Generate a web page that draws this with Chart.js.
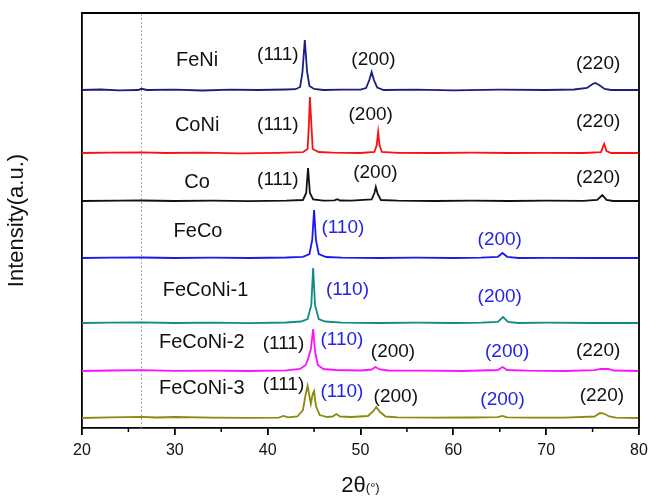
<!DOCTYPE html>
<html>
<head>
<meta charset="utf-8">
<script src="https://cdn.jsdelivr.net/npm/chart.js@4.4.0/dist/chart.umd.min.js"></script>
<style>
  html, body { margin: 0; padding: 0; background: #fff; }
  #wrap { width: 649px; height: 497px; }
</style>
</head>
<body>
<div id="wrap"><canvas id="xrd"></canvas></div>
<script>
// XRD patterns, 2theta (deg) vs intensity (a.u.), stacked with offsets
const samples = ['FeNi', 'CoNi', 'Co', 'FeCo', 'FeCoNi-1', 'FeCoNi-2', 'FeCoNi-3'];
const offsets = [338, 275, 227, 170, 105, 57, 10];
const colors = ['#1c1c86', '#ff1010', '#111111', '#1a1af0', '#138a84', '#ff10ff', '#8a8a10'];

const feNi = [[20,0],[22,0.5],[24,-0.3],[26,0],[26.4,1.2],[27,0],[30,0.4],[33,-0.5],[36,0.3],[39,0],[42,0.5],
  [43,0.8],[43.5,3],[43.75,18],[44.0,50],[44.25,18],[44.5,4],[45,1],[46,0],[48,0.3],[50,0.4],
  [50.6,2],[50.95,10],[51.2,18],[51.45,10],[51.8,2.5],[52.5,0],[56,0.4],[60,-0.3],[65,0.3],[70,0],
  [73,0.5],[74.4,2],[75.0,6],[75.3,7],[75.7,5],[76.3,1],[77,0],[80,0]];
const coNi = [[20,0],[23,0.3],[26.4,0.6],[29,0],[33,0.3],[37,-0.3],[41,0.2],[43.8,0.8],[44.3,4],[44.45,30],
  [44.55,56],[44.7,30],[44.85,4],[45.5,1],[47,0.3],[50,0],[51.5,1],[51.75,8],[51.9,21],[52.05,8],[52.3,1],
  [54,0.2],[58,0],[62,0.3],[66,0],[70,0.2],[74,0],[75.9,0.8],[76.25,9],[76.5,2],[77,0],[80,0]];
const co = [[20,0],[24,0.3],[26.4,0.5],[30,0],[34,0.3],[38,-0.2],[42,0.3],[43.8,1],[44.15,8],[44.35,33],
  [44.55,8],[44.9,1.5],[46,0.4],[47.2,0.6],[47.5,1.8],[47.8,0.5],[49,0.4],[51.2,1.5],[51.5,8],[51.65,14],
  [51.85,7],[52.2,1],[54,0.3],[58,0],[62,0.3],[66,0],[70,0.3],[74,0.2],[75.5,1.2],[76.05,6],[76.5,1.2],
  [77.2,0],[80,0]];
const feCo = [[20,0],[23,0.3],[26.4,0.5],[30,0],[34,0.4],[38,0],[42,0.5],[43.8,1.2],[44.5,4],[44.8,18],
  [45.0,48],[45.2,18],[45.5,4],[46.3,1],[48,0.3],[52,0],[56,0.3],[60,0],[63,0.4],[64.8,1.2],[65.3,5],
  [65.8,1.2],[67,0],[70,0.2],[75,0],[80,0]];
const feCoNi1 = [[20,0],[23,0.4],[26.4,0.6],[30,0],[34,0.4],[38,-0.2],[42,0.5],[43.6,1.5],[44.3,4],[44.7,18],
  [44.9,55],[45.1,18],[45.5,4],[46.2,1.5],[48,0.4],[52,0],[56,0.3],[60,0],[63,0.4],[64.8,1.2],[65.35,6],
  [65.9,1.2],[67,0],[70,0.3],[75,0],[80,0]];
const feCoNi2 = [[20,0],[23,0.5],[26.4,0.8],[30,0.2],[34,0.4],[38,0],[42,0.6],[43.5,2],[44.1,6],[44.35,12],
  [44.65,22],[44.9,42],[45.1,20],[45.4,6],[46,2],[47.3,1],[50,0.5],[51.2,1.5],[51.6,4],[52.1,1.5],[53,0.5],
  [57,0.3],[61,0],[64.8,1],[65.3,4],[65.8,1],[68,0.3],[72,0],[75.2,0.8],[75.9,2.2],[76.7,2],[77.3,0.5],[80,0]];
const feCoNi3 = [[20,0],[23,0.6],[26.4,1.2],[28,0.5],[30,1],[34,0.4],[38,0.2],[41.2,0.4],[41.7,2],[42.2,0.6],
  [43.2,1.5],[43.8,8],[44.1,24],[44.3,32],[44.5,22],[44.65,14],[44.85,24],[45.0,27],[45.2,12],[45.6,3],
  [46.4,1],[47.0,1.5],[47.4,4],[47.8,1.5],[49,1],[50.8,2],[51.4,7],[51.7,11],[52.1,6],[52.7,1.5],[54,0.6],
  [58,0.3],[62,0.5],[64.8,0.8],[65.3,2],[65.8,0.6],[68,0.3],[72,0.4],[75.2,1.5],[75.8,5],[76.2,4.5],
  [76.8,1.5],[77.5,0.4],[80,0]];
const patterns = [feNi, coNi, co, feCo, feCoNi1, feCoNi2, feCoNi3];

// dotted reference line at 26.4 deg
const refLine = [[26.4,0],[26.4,415]];

// minor x ticks (no labels)
const minorTicks = [25, 35, 45, 55, 65, 75];

// peak and sample labels: [text, 2theta, y, kind]
const labels = [
  ['FeNi', 32.4, 368, 'name'], ['(111)', 41.1, 373, 'k'], ['(200)', 51.4, 368, 'k'], ['(220)', 75.6, 364, 'k'],
  ['CoNi', 32.4, 303, 'name'], ['(111)', 41.1, 303, 'k'], ['(200)', 51.1, 313, 'k'], ['(220)', 75.6, 306, 'k'],
  ['Co', 32.4, 246, 'name'], ['(111)', 41.1, 248, 'k'], ['(200)', 51.6, 255, 'k'], ['(220)', 75.6, 250, 'k'],
  ['FeCo', 32.5, 197, 'name'], ['(110)', 48.1, 200, 'b'], ['(200)', 65.0, 188, 'b'],
  ['FeCoNi-1', 33.3, 138, 'name'], ['(110)', 48.6, 138, 'b'], ['(200)', 65.0, 131, 'b'],
  ['FeCoNi-2', 32.9, 86, 'name'], ['(111)', 41.7, 84, 'k'], ['(110)', 48.0, 88, 'b'], ['(200)', 53.5, 76, 'k'],
  ['(200)', 65.8, 76, 'b'], ['(220)', 75.6, 77, 'k'],
  ['FeCoNi-3', 32.9, 40, 'name'], ['(111)', 41.7, 43, 'k'], ['(110)', 48.0, 36, 'b'], ['(200)', 53.8, 31, 'k'],
  ['(200)', 65.3, 28, 'b'], ['(220)', 76.0, 32, 'k']
];

const FONT = '"Liberation Sans", Arial, sans-serif';

const datasets = patterns.map((pts, i) => ({
  label: samples[i],
  data: pts.map(p => ({x: p[0], y: p[1] + offsets[i]})),
  borderColor: colors[i],
  borderWidth: 1.8,
  showLine: true,
  pointRadius: 0,
  tension: 0,
  order: i
}));
datasets.push({
  label: 'ref',
  data: refLine.map(p => ({x: p[0], y: p[1]})),
  borderColor: '#a8a8a8',
  borderWidth: 1,
  borderDash: [2, 2],
  showLine: true,
  pointRadius: 0,
  order: 20
});

const framePlugin = {
  id: 'frame',
  afterDraw(chart) {
    const {ctx, chartArea: a, scales} = chart;
    ctx.save();
    ctx.strokeStyle = '#000';
    ctx.lineWidth = 1.8;
    ctx.beginPath();
    ctx.moveTo(a.left, a.top);
    ctx.lineTo(a.right, a.top);
    ctx.lineTo(a.right, a.bottom);
    ctx.stroke();

    // minor ticks
    ctx.lineWidth = 1.5;
    ctx.beginPath();
    minorTicks.forEach(t => {
      const x = scales.x.getPixelForValue(t);
      ctx.moveTo(x, a.bottom);
      ctx.lineTo(x, a.bottom + 4);
    });
    ctx.stroke();

    // peak labels
    ctx.textAlign = 'center';
    ctx.textBaseline = 'middle';
    labels.forEach(l => {
      const x = scales.x.getPixelForValue(l[1]);
      const y = scales.y.getPixelForValue(l[2]);
      ctx.font = (l[3] === 'name' ? '20px ' : '19px ') + FONT;
      ctx.fillStyle = l[3] === 'b' ? '#2424e8' : '#111';
      ctx.fillText(l[0], x, y);
    });

    // x title with small degree unit
    const cx = (a.left + a.right) / 2;
    ctx.textAlign = 'left';
    ctx.textBaseline = 'alphabetic';
    ctx.fillStyle = '#111';
    ctx.font = '22px ' + FONT;
    const w1 = ctx.measureText('2θ').width;
    ctx.font = '13px ' + FONT;
    const w2 = ctx.measureText('(°)').width;
    const x0 = cx - (w1 + w2) / 2;
    ctx.font = '22px ' + FONT;
    ctx.fillText('2θ', x0, 492);
    ctx.font = '13px ' + FONT;
    ctx.fillText('(°)', x0 + w1, 492);
    ctx.restore();
  }
};

new Chart(document.getElementById('xrd'), {
  type: 'scatter',
  data: { datasets: datasets },
  options: {
    responsive: true,
    maintainAspectRatio: false,
    animation: false,
    layout: { padding: { top: 13, right: 0, left: 0, bottom: 0 } },
    plugins: { legend: { display: false }, tooltip: { enabled: false } },
    scales: {
      x: {
        type: 'linear',
        min: 20,
        max: 80,
        ticks: {
          stepSize: 10,
          color: '#111',
          font: { family: FONT, size: 16 },
          padding: 6,
          maxRotation: 0,
          autoSkip: false
        },
        grid: { drawOnChartArea: false, drawTicks: true, tickLength: 7, color: '#000', lineWidth: 1.8 },
        border: { color: '#000', width: 1.8 },
        afterFit: s => { s.height = 69; s.paddingRight = 10; }
      },
      y: {
        type: 'linear',
        min: 0,
        max: 415,
        ticks: { display: false },
        grid: { display: false },
        border: { color: '#000', width: 1.8 },
        title: {
          display: true,
          text: 'Intensity(a.u.)',
          color: '#111',
          font: { family: FONT, size: 22 },
          padding: { top: 4, bottom: 0 }
        },
        afterFit: s => { s.width = 82; }
      }
    }
  },
  plugins: [framePlugin]
});
</script>
</body>
</html>
